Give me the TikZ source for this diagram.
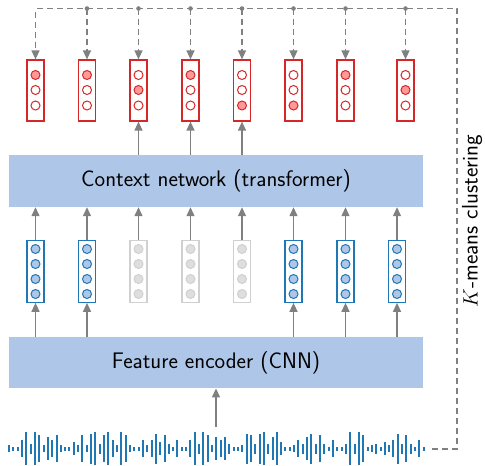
\documentclass[tikz,border=0pt]{standalone}
\usetikzlibrary{arrows.meta}
\definecolor{boxblue}{HTML}{AEC7E8}
\definecolor{tblue}{HTML}{1F77B4}
\definecolor{tred}{HTML}{D62728}
\definecolor{lred}{HTML}{FF9896}
\definecolor{arrgray}{HTML}{808080}
\definecolor{gbord}{HTML}{D0D0D0}
\definecolor{gfill}{HTML}{DEDEDE}
\begin{document}
\begin{tikzpicture}[x=1pt,y=-1pt,
  font=\sffamily\fontsize{22.5}{26}\selectfont,
  vecbox/.style={rectangle, minimum width=17pt, inner sep=0pt, line width=1.2pt, fill=white},
  redbox/.style={vecbox, draw=tred, minimum height=61pt},
  bluebox/.style={vecbox, draw=tblue, minimum height=61.5pt},
  graybox/.style={vecbox, draw=gbord, minimum height=61.5pt},
  cir/.style={circle, minimum size=9pt, inner sep=0pt, line width=1pt},
  redon/.style={cir, draw=tred, fill=lred},
  redoff/.style={cir, draw=tred, fill=white},
  bluec/.style={cir, draw=tblue, fill=boxblue},
  grayc/.style={cir, draw=gbord, fill=gfill},
  bigbox/.style={rectangle, fill=boxblue, minimum width=414pt, inner sep=0pt},
  arr/.style={draw=arrgray, line width=1.3pt, -{Triangle[length=9pt,width=8pt]}},
  dasharr/.style={arr, dash pattern=on 6pt off 4pt},
]
\useasboundingbox (0,0) rectangle (485,466);

% big boxes
\node[bigbox, minimum height=52pt] (ctx) at (216,181) {Context network (transformer)};
\node[bigbox, minimum height=51.5pt] (enc) at (216,362.5) {Feature encoder (CNN)};

% red (target) boxes
\foreach \x/\k [count=\c] in {35.5/1, 87/1, 138.5/2, 190.5/1, 242/3, 293.5/3, 345.5/1, 405.5/2}{
  \node[redbox] (r\c) at (\x,90.5) {};
  \foreach \j/\yy in {1/75, 2/90, 3/105.5}{
    \ifnum\j=\k
      \node[redon] (r\c c\j) at (\x,\yy) {};
    \else
      \node[redoff] (r\c c\j) at (\x,\yy) {};
    \fi
  }
}

% blue / gray feature boxes
\foreach \x/\t [count=\c] in {35.5/b, 87/b, 138.5/g, 190.5/g, 242/g, 293.5/b, 345.5/b, 397/b}{
  \if\t b
    \node[bluebox] (b\c) at (\x,271.5) {};
    \foreach \j/\yy in {1/249, 2/264, 3/279, 4/294}{
      \node[bluec] (b\c c\j) at (\x,\yy) {};
    }
  \else
    \node[graybox] (b\c) at (\x,271.5) {};
    \foreach \j/\yy in {1/249, 2/264, 3/279, 4/294}{
      \node[grayc] (b\c c\j) at (\x,\yy) {};
    }
  \fi
}

% arrows features -> context
\foreach \c in {1,...,8}{
  \draw[arr] (b\c.north) -- (b\c.north |- ctx.south);
}
% arrows context -> masked targets
\foreach \c in {3,4,5}{
  \draw[arr] (ctx.north -| r\c) -- (r\c.south);
}
% arrows encoder -> visible features
\foreach \c in {1,2,6,7,8}{
  \draw[arr] (enc.north -| b\c) -- (b\c.south);
}

% waveform
\foreach \h [count=\i from 0] in {7,4,4,17,33,10,33,27,7,23,17,27,7,4,4,13,7,27,7,30,33,10,27,33,17,7,33,27,7,4,4,17,7,17,30,
  13,27,10,4,17,4,4,17,33,10,33,27,7,23,17,23,10,4,4,7,30,27,10,30,33,10,23,33,13,4,4,7,17,10,23,
  30,10,27,10,4,17,4,4,10,33,10,33,27,4,7,10,4,13,7,17,30,10,27,10,4,17,4}{
  \fill[tblue] ({9+4.32*\i-1},{448.5-\h/2}) rectangle ++(2,\h);
}
\coordinate (wtop) at (216,427);
\draw[arr] (wtop) -- (enc.south);

% k-means dashed loop
\coordinate (wend) at (432,449);
\coordinate (cbr) at (457,449);
\coordinate (ctr) at (457,8.5);
\coordinate (ctl) at (35.5,8.5);
\draw[dasharr] (wend) -- (cbr) -- (ctr) -- (ctl) -- (r1.north);
\foreach \c in {2,...,8}{
  \coordinate (d\c) at (r\c.north |- ctl);
  \draw[dasharr] (d\c) -- (r\c.north);
  \fill[arrgray] (d\c) circle (2.3);
}
\node[rotate=90] (km) at (472,221) {$K$-means clustering};
\end{tikzpicture}
\end{document}
